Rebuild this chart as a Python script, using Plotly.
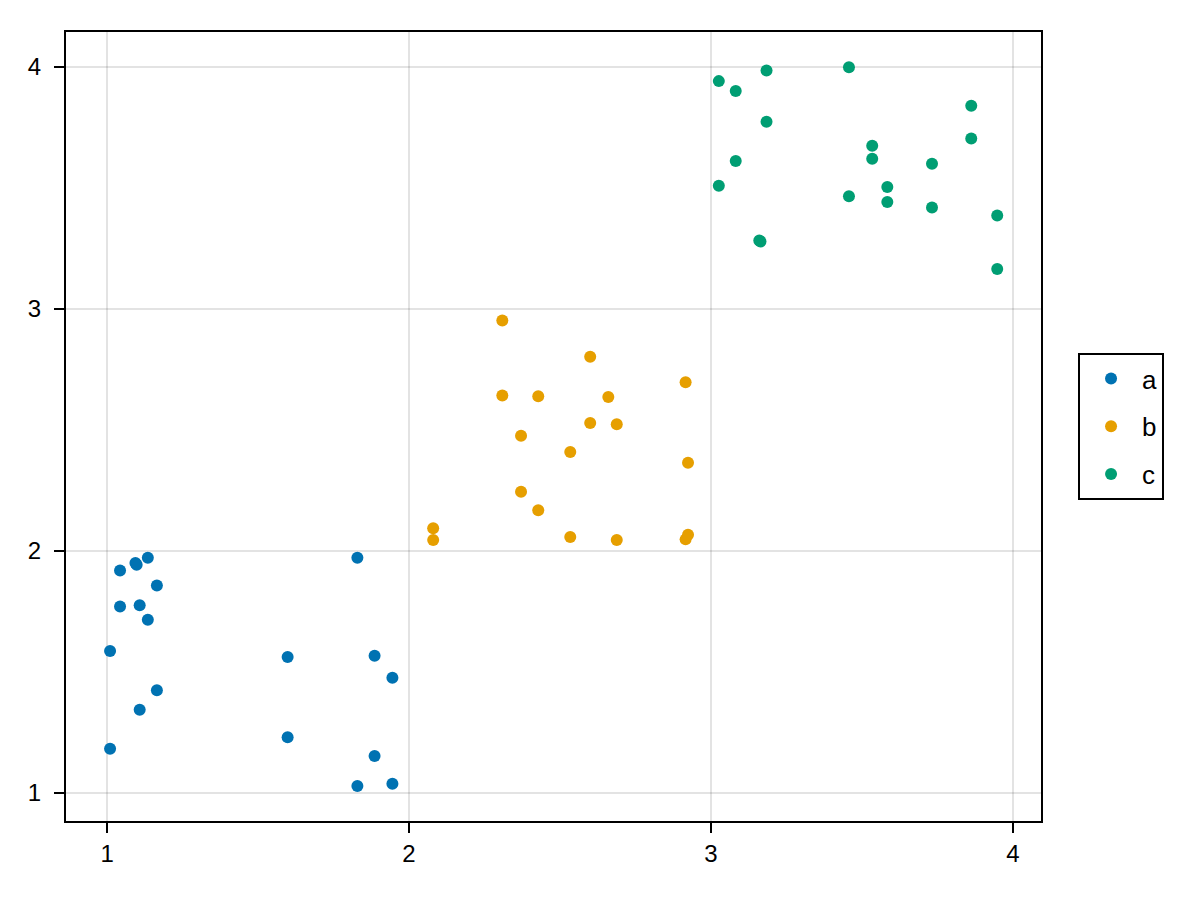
import plotly.graph_objects as go

# group a
a_x = [1.043, 1.094, 1.098, 1.135, 1.165, 1.043, 1.108, 1.135, 1.010, 1.165,
       1.108, 1.010, 1.598, 1.598, 1.829, 1.886, 1.945, 1.886, 1.829, 1.945]
a_y = [1.919, 1.950, 1.943, 1.972, 1.857, 1.771, 1.776, 1.716, 1.587, 1.424,
       1.344, 1.183, 1.562, 1.230, 1.972, 1.567, 1.476, 1.153, 1.029, 1.038]

# group b
b_x = [2.309, 2.600, 2.916, 2.309, 2.428, 2.660, 2.600, 2.688, 2.371, 2.534,
       2.924, 2.371, 2.428, 2.080, 2.080, 2.534, 2.688, 2.916, 2.924]
b_y = [2.953, 2.803, 2.697, 2.643, 2.640, 2.636, 2.529, 2.524, 2.476, 2.409,
       2.365, 2.245, 2.168, 2.094, 2.045, 2.058, 2.045, 2.048, 2.067]

# group c
c_x = [3.026, 3.082, 3.184, 3.457, 3.184, 3.862, 3.862, 3.534, 3.534, 3.082,
       3.732, 3.026, 3.584, 3.457, 3.584, 3.732, 3.948, 3.160, 3.164, 3.948]
c_y = [3.942, 3.901, 3.986, 3.999, 3.774, 3.840, 3.705, 3.675, 3.621, 3.612,
       3.600, 3.510, 3.504, 3.466, 3.442, 3.420, 3.387, 3.283, 3.279, 3.165]

groups = [("a", a_x, a_y, "#0072B2"),
          ("b", b_x, b_y, "#E69F00"),
          ("c", c_x, c_y, "#009E73")]

fig = go.Figure()
for name, xs, ys, col in groups:
    fig.add_trace(go.Scatter(
        x=xs, y=ys, mode="markers", name=name, legendgroup=name,
        marker=dict(size=12, color=col, line=dict(width=0)),
    ))

axis_style = dict(
    showgrid=True, gridcolor="rgba(0,0,0,0.11)", gridwidth=2,
    zeroline=False, showline=True, linecolor="black", linewidth=2,
    mirror=True, ticks="outside", ticklen=10, tickwidth=2, tickcolor="black",
    tickfont=dict(size=24, color="black"),
)

# page body has an 8px margin, so margins are shifted by 8
fig.update_layout(
    width=1200, height=900,
    margin=dict(l=58, r=167, t=24, b=87),
    plot_bgcolor="white", paper_bgcolor="white",
    font=dict(family="Liberation Sans, Arial, sans-serif", color="black"),
    xaxis=dict(range=[0.864, 4.093], tickvals=[1, 2, 3, 4],
               ticklabelstandoff=0, **axis_style),
    yaxis=dict(range=[0.884, 4.145], tickvals=[1, 2, 3, 4],
               ticklabelstandoff=8, **axis_style),
    legend=dict(
        x=1.038, y=0.5, xanchor="left", yanchor="middle",
        bordercolor="black", borderwidth=2, bgcolor="white",
        font=dict(size=26), traceorder="grouped", tracegroupgap=11,
        itemwidth=52, entrywidth=30,
    ),
)

fig.write_html("out.html")
